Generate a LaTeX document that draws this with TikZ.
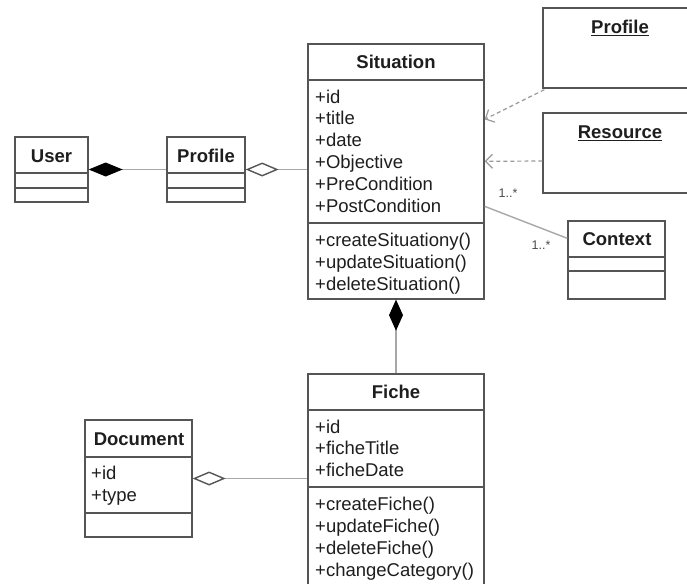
\documentclass[tikz,border=0pt]{standalone}
\usepackage{fontspec}
\setmainfont{Liberation Sans}
\usetikzlibrary{arrows.meta}
\definecolor{boxc}{HTML}{555555}
\definecolor{linec}{HTML}{A8A8A8}
\definecolor{dashc}{HTML}{999999}
\definecolor{txtc}{HTML}{1E1E1E}
\tikzset{
  umlbox/.style={draw=boxc, line width=1.3pt, rectangle, inner sep=0pt},
  divider/.style={draw=boxc, line width=1.3pt},
  hdr/.style={font=\fontsize{18.5}{22}\selectfont\bfseries, text=txtc, inner sep=0pt},
  attr/.style={font=\fontsize{18.5}{22}\selectfont, text=txtc, anchor=west, inner sep=0pt, text height=13pt, text depth=4pt, yshift=-1.5pt},
  mult/.style={font=\fontsize{12.5}{14}\selectfont, text=txtc!80, inner sep=0pt},
  conn/.style={draw=linec, line width=1.4pt},
  dep/.style={draw=dashc, line width=1.2pt, dash pattern=on 4pt off 3pt},
}
\begin{document}
\begin{tikzpicture}[x=1pt,y=-1pt]
\useasboundingbox (0,0) rectangle (687,583);
\clip (0,0) rectangle (687,583);
\fill[white] (0,0) rectangle (687,583);

% boxes
\node[umlbox, minimum width=176pt, minimum height=255pt] (situation) at (396,171.5) {};
\node[umlbox, minimum width=176pt, minimum height=246pt] (fiche) at (396,497) {};
\node[umlbox, minimum width=107pt, minimum height=117pt] (doc) at (138.5,478.5) {};
\node[umlbox, minimum width=73pt, minimum height=65pt] (user) at (51.5,169.5) {};
\node[umlbox, minimum width=78pt, minimum height=65pt] (profL) at (206,169.5) {};
\node[umlbox, minimum width=167pt, minimum height=80pt] (profR) at (626.5,48) {};
\node[umlbox, minimum width=167pt, minimum height=80pt] (res) at (626.5,153) {};
\node[umlbox, minimum width=97pt, minimum height=78pt] (ctx) at (616.5,260) {};

% dividers
\draw[divider] (situation.west |- 0,80) -- (situation.east |- 0,80);
\draw[divider] (situation.west |- 0,223) -- (situation.east |- 0,223);
\draw[divider] (fiche.west |- 0,410) -- (fiche.east |- 0,410);
\draw[divider] (fiche.west |- 0,487) -- (fiche.east |- 0,487);
\draw[divider] (doc.west |- 0,457) -- (doc.east |- 0,457);
\draw[divider] (doc.west |- 0,513) -- (doc.east |- 0,513);
\draw[divider] (user.west |- 0,173) -- (user.east |- 0,173);
\draw[divider] (user.west |- 0,188) -- (user.east |- 0,188);
\draw[divider] (profL.west |- 0,173) -- (profL.east |- 0,173);
\draw[divider] (profL.west |- 0,188) -- (profL.east |- 0,188);
\draw[divider] (ctx.west |- 0,257) -- (ctx.east |- 0,257);
\draw[divider] (ctx.west |- 0,271) -- (ctx.east |- 0,271);

% headers
\node[hdr] (tSit) at (396,62) {Situation};
\node[hdr] (tFiche) at (396,392) {Fiche};
\node[hdr] (tDoc) at (139,439) {Document};
\node[hdr] (tUser) at (51.5,156) {User};
\node[hdr] (tProfL) at (206,156) {Profile};
\node[hdr] (tProfR) at (620,28) {\underline{Profile}};
\node[hdr] (tRes) at (620,133) {\underline{Resource}};
\node[hdr] (tCtx) at (617,239) {Context};

% Situation members
\node[attr] (s1) at (315,97) {+id};
\node[attr] (s2) at (315,118.5) {+title};
\node[attr] (s3) at (315,140) {+date};
\node[attr] (s4) at (315,162) {+Objective};
\node[attr] (s5) at (315,184.5) {+PreCondition};
\node[attr] (s6) at (315,206.5) {+PostCondition};
\node[attr] (s7) at (315,240) {+createSituationy()};
\node[attr] (s8) at (315,262) {+updateSituation()};
\node[attr] (s9) at (315,284.5) {+deleteSituation()};

% Fiche members
\node[attr] (f1) at (315,427) {+id};
\node[attr] (f2) at (315,448.5) {+ficheTitle};
\node[attr] (f3) at (315,470) {+ficheDate};
\node[attr] (f4) at (315,504) {+createFiche()};
\node[attr] (f5) at (315,526) {+updateFiche()};
\node[attr] (f6) at (315,548) {+deleteFiche()};
\node[attr] (f7) at (315,570) {+changeCategory()};

% Document members
\node[attr] (d1) at (91,473) {+id};
\node[attr] (d2) at (91,495) {+type};

% connectors
\draw[conn, {Diamond[length=34pt,width=14pt,fill=black,color=black]}-] (user.east) -- (profL.west);
\draw[conn, {Diamond[open,length=33pt,width=14pt,color=boxc]}-] (profL.east) -- (profL.east -| situation.west);
\draw[conn, {Diamond[open,length=33pt,width=14pt,color=boxc]}-] (doc.east) -- (doc.east -| fiche.west);
\draw[conn, {Diamond[length=31pt,width=14pt,fill=black,color=black]}-] (situation.south) -- (fiche.north);
\draw[conn] ([yshift=-163pt]situation.north east) -- ([yshift=-18pt]ctx.north west);
\draw[dep, -{Straight Barb[length=7pt,width=14pt]}] ([xshift=2pt,yshift=-1pt]profR.south west) -- ([yshift=-76pt]situation.north east);
\draw[dep, -{Straight Barb[length=7pt,width=14pt]}] ([yshift=-8pt]res.west) -- ([yshift=-118pt]situation.north east);

% multiplicities
\node[mult] (m1) at (508,193) {1..*};
\node[mult] (m2) at (541,245) {1..*};
\end{tikzpicture}
\end{document}
